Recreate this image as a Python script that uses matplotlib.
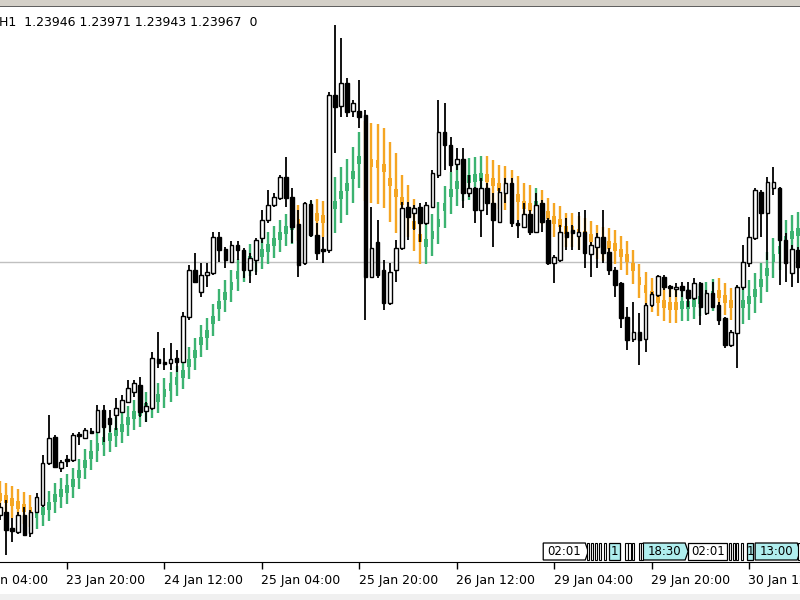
import matplotlib
matplotlib.use("Agg")
import matplotlib.pyplot as plt
from matplotlib.patches import Polygon, Rectangle
from matplotlib.transforms import blended_transform_factory

# H1 candles, 22 Jan - 30 Jan
opens = [1.24485, 1.24488, 1.24472, 1.24468, 1.24485, 1.24467, 1.24488, 1.24495, 1.24537, 1.24563,
         1.24532, 1.24541, 1.24540, 1.24566, 1.24562, 1.24569, 1.24568, 1.24590, 1.24582, 1.24585,
         1.24588, 1.24598, 1.24608, 1.24615, 1.24589, 1.24592, 1.24641, 1.24638, 1.24637, 1.24642,
         1.24638, 1.24683, 1.24730, 1.24708, 1.24725, 1.24727, 1.24763, 1.24751, 1.24738, 1.24755,
         1.24750, 1.24730, 1.24740, 1.24762, 1.24780, 1.24795, 1.24802, 1.24823, 1.24803, 1.24776,
         1.24737, 1.24796, 1.24765, 1.24751, 1.24750, 1.24905, 1.24894, 1.24917, 1.24889, 1.24889,
         1.24885, 1.24723, 1.24758, 1.24730, 1.24697, 1.24730, 1.24752, 1.24793, 1.24787, 1.24793,
         1.24777, 1.24793, 1.24825, 1.24868, 1.24855, 1.24836, 1.24841, 1.24807, 1.24812, 1.24790,
         1.24812, 1.24797, 1.24778, 1.24807, 1.24817, 1.24777, 1.24773, 1.24786, 1.24768, 1.24797,
         1.24780, 1.24737, 1.24740, 1.24768, 1.24770, 1.24764, 1.24768, 1.24746, 1.24753, 1.24763,
         1.24748, 1.24730, 1.24717, 1.24683, 1.24661, 1.24668, 1.24661, 1.24695, 1.24705, 1.24723,
         1.24714, 1.24711, 1.24714, 1.24710, 1.24702, 1.24717, 1.24687, 1.24707, 1.24695, 1.24682,
         1.24655, 1.24667, 1.24713, 1.24737, 1.24762, 1.24808, 1.24787, 1.24812, 1.24812, 1.24760,
         1.24727, 1.24750]
highs = [1.24497, 1.24500, 1.24482, 1.24488, 1.24493, 1.24490, 1.24507, 1.24545, 1.24585, 1.24565,
         1.24540, 1.24545, 1.24567, 1.24568, 1.24572, 1.24572, 1.24595, 1.24595, 1.24590, 1.24602,
         1.24605, 1.24620, 1.24620, 1.24623, 1.24598, 1.24648, 1.24668, 1.24652, 1.24657, 1.24650,
         1.24688, 1.24735, 1.24747, 1.24737, 1.24737, 1.24768, 1.24768, 1.24753, 1.24759, 1.24759,
         1.24752, 1.24747, 1.24762, 1.24790, 1.24810, 1.24807, 1.24825, 1.24843, 1.24812, 1.24790,
         1.24798, 1.24800, 1.24777, 1.24763, 1.24908, 1.24975, 1.24962, 1.24922, 1.24900, 1.24920,
         1.24890, 1.24793, 1.24780, 1.24740, 1.24737, 1.24760, 1.24798, 1.24798, 1.24795, 1.24797,
         1.24798, 1.24830, 1.24900, 1.24897, 1.24863, 1.24852, 1.24852, 1.24825, 1.24813, 1.24822,
         1.24817, 1.24807, 1.24812, 1.24822, 1.24822, 1.24780, 1.24797, 1.24790, 1.24807, 1.24800,
         1.24782, 1.24745, 1.24775, 1.24782, 1.24775, 1.24788, 1.24790, 1.24758, 1.24767, 1.24790,
         1.24752, 1.24733, 1.24718, 1.24693, 1.24698, 1.24687, 1.24697, 1.24708, 1.24725, 1.24725,
         1.24715, 1.24717, 1.24718, 1.24718, 1.24722, 1.24718, 1.24710, 1.24718, 1.24698, 1.24683,
         1.24670, 1.24715, 1.24755, 1.24783, 1.24812, 1.24810, 1.24823, 1.24833, 1.24813, 1.24767,
         1.24755, 1.24753]
lows = [1.24480, 1.24445, 1.24458, 1.24466, 1.24464, 1.24463, 1.24487, 1.24493, 1.24535, 1.24532,
        1.24528, 1.24533, 1.24538, 1.24555, 1.24561, 1.24566, 1.24567, 1.24558, 1.24568, 1.24570,
        1.24587, 1.24597, 1.24603, 1.24583, 1.24578, 1.24590, 1.24632, 1.24630, 1.24630, 1.24628,
        1.24637, 1.24680, 1.24717, 1.24703, 1.24713, 1.24725, 1.24738, 1.24732, 1.24737, 1.24740,
        1.24722, 1.24717, 1.24725, 1.24757, 1.24777, 1.24793, 1.24800, 1.24793, 1.24757, 1.24723,
        1.24735, 1.24763, 1.24740, 1.24737, 1.24747, 1.24847, 1.24883, 1.24883, 1.24883, 1.24872,
        1.24680, 1.24722, 1.24722, 1.24690, 1.24695, 1.24718, 1.24750, 1.24760, 1.24770, 1.24758,
        1.24775, 1.24792, 1.24822, 1.24830, 1.24828, 1.24830, 1.24792, 1.24803, 1.24777, 1.24763,
        1.24785, 1.24753, 1.24777, 1.24797, 1.24773, 1.24762, 1.24772, 1.24765, 1.24767, 1.24768,
        1.24735, 1.24717, 1.24738, 1.24750, 1.24750, 1.24750, 1.24732, 1.24723, 1.24732, 1.24737,
        1.24725, 1.24703, 1.24672, 1.24650, 1.24658, 1.24635, 1.24648, 1.24693, 1.24703, 1.24710,
        1.24703, 1.24703, 1.24703, 1.24693, 1.24700, 1.24675, 1.24685, 1.24692, 1.24675, 1.24652,
        1.24653, 1.24632, 1.24710, 1.24733, 1.24760, 1.24763, 1.24740, 1.24805, 1.24715, 1.24718,
        1.24713, 1.24717]
closes = [1.24493, 1.24470, 1.24469, 1.24485, 1.24465, 1.24488, 1.24503, 1.24537, 1.24562, 1.24533,
          1.24538, 1.24539, 1.24565, 1.24564, 1.24570, 1.24567, 1.24590, 1.24573, 1.24576, 1.24592,
          1.24600, 1.24612, 1.24617, 1.24588, 1.24594, 1.24642, 1.24637, 1.24636, 1.24641, 1.24638,
          1.24684, 1.24730, 1.24718, 1.24725, 1.24728, 1.24763, 1.24750, 1.24740, 1.24755, 1.24750,
          1.24730, 1.24742, 1.24760, 1.24780, 1.24795, 1.24803, 1.24823, 1.24802, 1.24773, 1.24735,
          1.24797, 1.24765, 1.24747, 1.24749, 1.24905, 1.24893, 1.24917, 1.24888, 1.24897, 1.24883,
          1.24723, 1.24752, 1.24725, 1.24697, 1.24728, 1.24752, 1.24792, 1.24783, 1.24792, 1.24777,
          1.24795, 1.24827, 1.24868, 1.24855, 1.24835, 1.24841, 1.24807, 1.24812, 1.24790, 1.24812,
          1.24797, 1.24780, 1.24808, 1.24817, 1.24777, 1.24775, 1.24786, 1.24768, 1.24795, 1.24778,
          1.24737, 1.24743, 1.24768, 1.24763, 1.24767, 1.24768, 1.24747, 1.24755, 1.24763, 1.24747,
          1.24730, 1.24715, 1.24682, 1.24660, 1.24668, 1.24660, 1.24695, 1.24706, 1.24724, 1.24713,
          1.24712, 1.24713, 1.24710, 1.24702, 1.24717, 1.24693, 1.24707, 1.24693, 1.24680, 1.24655,
          1.24668, 1.24713, 1.24738, 1.24763, 1.24810, 1.24787, 1.24818, 1.24818, 1.24760, 1.24737,
          1.24751, 1.24733]

# trend indicator: centre value, half range, direction (g = up, o = down)
ind_mid = [1.24503, 1.24501, 1.24498, 1.24495, 1.24492, 1.24489, 1.24486, 1.24489, 1.24494, 1.24502,
           1.24507, 1.24511, 1.24517, 1.24526, 1.24536, 1.24545, 1.24553, 1.24559, 1.24563, 1.24568,
           1.24572, 1.24579, 1.24585, 1.24588, 1.24593, 1.24597, 1.24602, 1.24607, 1.24613, 1.24619,
           1.24626, 1.24637, 1.24646, 1.24659, 1.24666, 1.24680, 1.24695, 1.24704, 1.24714, 1.24725,
           1.24734, 1.24740, 1.24744, 1.24747, 1.24752, 1.24758, 1.24764, 1.24770, 1.24774, 1.24777,
           1.24779, 1.24781, 1.24783, 1.24781, 1.24788, 1.24795, 1.24805, 1.24813, 1.24825, 1.24840,
           1.24839, 1.24837, 1.24836, 1.24832, 1.24818, 1.24807, 1.24799, 1.24789, 1.24775, 1.24762,
           1.24757, 1.24765, 1.24777, 1.24793, 1.24807, 1.24815, 1.24820, 1.24821, 1.24822, 1.24823,
           1.24822, 1.24818, 1.24813, 1.24812, 1.24808, 1.24802, 1.24795, 1.24793, 1.24795, 1.24793,
           1.24785, 1.24780, 1.24777, 1.24770, 1.24770, 1.24767, 1.24765, 1.24762, 1.24758, 1.24756,
           1.24755, 1.24753, 1.24747, 1.24742, 1.24733, 1.24719, 1.24711, 1.24705, 1.24701, 1.24696,
           1.24694, 1.24694, 1.24695, 1.24695, 1.24697, 1.24700, 1.24702, 1.24705, 1.24706, 1.24701,
           1.24696, 1.24694, 1.24696, 1.24700, 1.24707, 1.24717, 1.24728, 1.24742, 1.24750, 1.24760,
           1.24765, 1.24768]
ind_half = [0.00016, 0.00016, 0.00016, 0.00016, 0.00016, 0.00016, 0.00015, 0.00015, 0.00015, 0.00015,
            0.00015, 0.00015, 0.00015, 0.00015, 0.00015, 0.00015, 0.00015, 0.00015, 0.00015, 0.00015,
            0.00015, 0.00015, 0.00015, 0.00015, 0.00015, 0.00015, 0.00015, 0.00015, 0.00015, 0.00015,
            0.00015, 0.00016, 0.00016, 0.00016, 0.00016, 0.00016, 0.00016, 0.00016, 0.00016, 0.00016,
            0.00016, 0.00016, 0.00016, 0.00016, 0.00016, 0.00016, 0.00016, 0.00016, 0.00018, 0.00018,
            0.00018, 0.00018, 0.00018, 0.00018, 0.00018, 0.00028, 0.00028, 0.00028, 0.00028, 0.00028,
            0.00040, 0.00040, 0.00040, 0.00040, 0.00040, 0.00040, 0.00026, 0.00026, 0.00026, 0.00026,
            0.00021, 0.00021, 0.00021, 0.00021, 0.00021, 0.00021, 0.00021, 0.00021, 0.00021, 0.00021,
            0.00022, 0.00022, 0.00022, 0.00022, 0.00022, 0.00022, 0.00022, 0.00022, 0.00017, 0.00017,
            0.00017, 0.00017, 0.00017, 0.00017, 0.00017, 0.00017, 0.00017, 0.00017, 0.00017, 0.00017,
            0.00017, 0.00017, 0.00017, 0.00017, 0.00017, 0.00017, 0.00017, 0.00017, 0.00017, 0.00017,
            0.00017, 0.00017, 0.00016, 0.00016, 0.00016, 0.00016, 0.00016, 0.00016, 0.00016, 0.00016,
            0.00016, 0.00020, 0.00020, 0.00020, 0.00020, 0.00020, 0.00020, 0.00020, 0.00020, 0.00020,
            0.00020, 0.00020]
ind_dir = ("oooooogggg" "gggggggggg" "gggggggggg" "gggggggggg" "gggggggggo"
           "ogoogggggg" "oooooooooo" "gggggggggg" "oooooooogo" "oooooooooo"
           "oooooooooo" "ooggggggoo" "oggggggggg" "gg")

# time axis: candle index of each label
tick_pos = [-5, 11, 27, 43, 59, 75, 91, 107, 123]
tick_labels = ["23 Jan 04:00", "23 Jan 20:00", "24 Jan 12:00", "25 Jan 04:00", "25 Jan 20:00",
               "26 Jan 12:00", "29 Jan 04:00", "29 Jan 20:00", "30 Jan 12:00"]

level_line = 1.24738
header = "H1  1.23946 1.23971 1.23943 1.23967  0"

# object time labels along the bottom
tag_left = [89.2, 100.0, 105.6, 113.0, 122.7, 124.0]
tag_right = [96.1, 101.8, 112.5, 119.4, 123.6, 130.9]
tag_text = ["02:01", "1", "18:30", "02:01", "1", "13:00"]
tag_cyan = [False, True, True, False, True, True]
tag_arrow = [True, False, True, False, False, True]
stub_pos = [96.4, 97.0, 97.7, 98.4, 99.2, 102.7, 103.2, 103.7, 104.9, 105.3,
            119.7, 120.3, 120.9, 121.6, 131.1]

UP = "#3cb371"
DOWN = "#f5a623"

fig = plt.figure(figsize=(8, 6), dpi=100)
ax = fig.add_axes([0, 1 - 562 / 600, 1, 554 / 600])
ax.set_xlim(0, 800 / 6.09)
ax.set_ylim(1.24438, 1.24992)

ax.axhline(level_line, color="#c0c0c0", lw=1, zorder=1)

n = len(opens)
for i in range(n):
    c = UP if ind_dir[i] == "g" else DOWN
    ax.vlines(i, ind_mid[i] - ind_half[i], ind_mid[i] + ind_half[i], color=c, lw=1.7, zorder=2)
    ax.bar(i, 0.00008, bottom=ind_mid[i] - 0.00004, width=0.62, color=c, zorder=3)

for i in range(n):
    o, h, l, c = opens[i], highs[i], lows[i], closes[i]
    ax.vlines(i, l, h, color="black", lw=1.3, zorder=4)
    body = max(abs(c - o), 0.000012)
    ax.bar(i, body, bottom=min(o, c), width=0.6,
           facecolor="white" if c >= o else "black", edgecolor="black", lw=1.0, zorder=5)

for s in ["top", "left", "right"]:
    ax.spines[s].set_visible(False)
ax.spines["bottom"].set_color("black")
ax.set_yticks([])
ax.set_xticks([p for p in tick_pos if p >= 0])
ax.set_xticklabels([])
ax.tick_params(axis="x", length=5, width=1, color="black")

tr = blended_transform_factory(ax.transData, ax.transAxes)
for p, lab in zip(tick_pos, tick_labels):
    ax.text(p - 0.1, -0.021, lab, transform=tr, ha="left", va="top", fontsize=9, clip_on=False)

y0, y1 = 1.24440, 1.24457
ym = (y0 + y1) / 2
for xl, xr, t, cy, ar in zip(tag_left, tag_right, tag_text, tag_cyan, tag_arrow):
    pts = [(xl, y0), (xr, y0), (xr, y1), (xl, y1)]
    if ar:
        pts = [(xl, y0), (xr, y0), (xr + 0.5, ym), (xr, y1), (xl, y1)]
    ax.add_patch(Polygon(pts, closed=True, facecolor="#afeeee" if cy else "white",
                         edgecolor="black", lw=0.9, zorder=6))
    ax.text((xl + xr) / 2, ym, t, ha="center", va="center", fontsize=8.5, zorder=7)
for sp in stub_pos:
    ax.add_patch(Rectangle((sp, y0), 0.35, y1 - y0, facecolor="white",
                           edgecolor="black", lw=0.8, zorder=6))

# window frame bits
fig.patches.append(Rectangle((0, 1 - 6 / 600), 1, 6 / 600, transform=fig.transFigure,
                             facecolor="#d4d0c8", edgecolor="none"))
fig.patches.append(Rectangle((0, 1 - 7 / 600), 1, 1.2 / 600, transform=fig.transFigure,
                             facecolor="#606060", edgecolor="none"))
fig.patches.append(Rectangle((0, 0), 1, 6 / 600, transform=fig.transFigure,
                             facecolor="#f0f0f0", edgecolor="none"))

fig.text(-0.001, 1 - 22 / 600, header, ha="left", va="center", fontsize=9)

fig.savefig("out.png", dpi=100)
